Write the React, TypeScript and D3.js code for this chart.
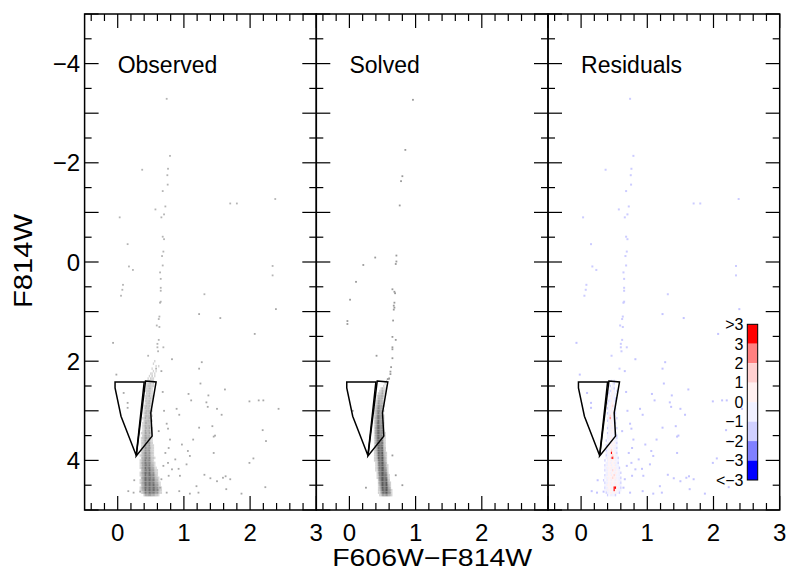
import React from "react";
import * as d3 from "d3";

// ---------- data ----------
const PANEL_LABELS = ["Observed", "Solved", "Residuals"];
const X_TICK_LABELS = [0, 1, 2, 3];
const Y_TICK_LABELS = [-4, -2, 0, 2, 4];
const X_DOMAIN = [-0.5, 3];
const Y_DOMAIN = [-5, 5];

// Hess-diagram bins of the main-sequence band (colour 0.30 + 0.02*i, mag step 0.05)
const BIN_COLOR0 = 0.3;
const BIN_DCOLOR = 0.02;
const BIN_DMAG = 0.05;

const OBS_MAG0 = 2.0;
const OBS_ROWS = [
  "0000000000000100000000000",
  "0000000000001000000000000",
  "0000000000000010100000000",
  "0000000000010000000000000",
  "0000000000001010000000000",
  "0000000000110100000000000",
  "0000000001020100000000000",
  "0000000010211000000000000",
  "0000000012121000000000000",
  "0000000122312000000000000",
  "0000000132221000000000000",
  "0000000223310000000000000",
  "0000001232210000000000000",
  "0000000323210000000000000",
  "0000001233120000000000000",
  "0000001322310000000000000",
  "0000002333210000000000000",
  "0000001343210000000000000",
  "0000012433200000000000000",
  "0000013342100000000000000",
  "0000012443210000000000000",
  "0000023434100000000000000",
  "0000013443210000000000000",
  "0000124344200000000000000",
  "0000023453210000000000000",
  "0000124543100000000000000",
  "0000134454200000000000000",
  "0000124545210000000000000",
  "0000135454210000000000000",
  "0001235545310000000000000",
  "0000245554210000000000000",
  "0001345655310000000000000",
  "0001256564210000000000000",
  "0001345665320000000000000",
  "0001256566321000000000000",
  "0001346665421000000000000",
  "0002356676321000000000000",
  "0001467766431000000000000",
  "0012467776421000000000000",
  "0002567877532100000000000",
  "0012578787531000000000000",
  "0013678887642100000000000",
  "0012678988653100000000000",
  "0013679898764210000000000",
  "0002578989875321000000000",
  "0013689999876421000000000",
  "0012579899987531000000000",
  "0003689998987642100000000",
  "0012589999998753100000000",
  "0013689999998764210000000",
  "0002579999999875310000000",
  "0013689999999986421000000",
  "0012579899999987531000000",
  "0001368889998876421000000",
  "0000024565654432100000000",
];

const SOL_MAG0 = 2.35;
const SOL_ROWS = [
  "0000000000000001000000000",
  "0000000000000100000000000",
  "0000000000001000000000000",
  "0000000000010100000000000",
  "0000000001211000000000000",
  "0000000012321000000000000",
  "0000000123421000000000000",
  "0000001234320000000000000",
  "0000001344310000000000000",
  "0000012454210000000000000",
  "0000013554310000000000000",
  "0000024565310000000000000",
  "0000125665200000000000000",
  "0000136675310000000000000",
  "0000136765200000000000000",
  "0000137776310000000000000",
  "0000147776310000000000000",
  "0000147876310000000000000",
  "0000148876420000000000000",
  "0000148887420000000000000",
  "0000158887410000000000000",
  "0000158887520000000000000",
  "0000158887521000000000000",
  "0000158888521000000000000",
  "0000148888631000000000000",
  "0000148898631000000000000",
  "0000148898741000000000000",
  "0000137899741000000000000",
  "0000136899842000000000000",
  "0000136899852000000000000",
  "0000125899953100000000000",
  "0000125899963100000000000",
  "0000124899974100000000000",
  "0000123799974100000000000",
  "0000012699985200000000000",
  "0000012699986210000000000",
  "0000012599996310000000000",
  "0000011589997410000000000",
  "0000001489998520000000000",
  "0000001389999631000000000",
  "0000001379999741000000000",
  "0000000269999852000000000",
  "0000000258999963100000000",
  "0000000148999974100000000",
  "0000000137999985200000000",
  "0000000126899986310000000",
  "0000000115799987410000000",
  "0000000012455554210000000",
];

// residual classes: A <-3, B -3..-2, C -2..-1, D -1..0, E 0..1, F 1..2, G 2..3, H >3
const RES_MAG0 = 2.4;
const RES_ROWS = [
  "........C.C",
  ".........DC",
  ".......C.DD",
  "........DDC",
  ".......CDED.C",
  "......C.DEDD",
  "......DDEDD",
  ".......DEDDC",
  "......CDDEDC",
  ".....C.DEEDD",
  "......DDEFDD",
  ".....CDEEDDC",
  "......DEDEDD",
  ".....CDDEEDC",
  "......DFEDDD",
  ".....DDGEDD.C",
  ".....CDEDEDD",
  "......DEEDDC",
  ".....DDDEEDD",
  ".....CDEDDEDC",
  "......DDEEDD",
  ".....CDEDEDC",
  ".....DDDEDDDC",
  ".....DDEEDEDC",
  "....C.DDEEDDD",
  ".....DDEDEEDC",
  "....CDDEEDEDD",
  ".....DEDEEDDC",
  "....CDDEFEDDD",
  "....DDEDHEEDC",
  "....CDDEEFEDD",
  "....DDEDGHEDDC",
  "...C.DEEDEEDDD",
  "....DDEDEEDEDC",
  "...CDDEEDEEDDD",
  "...DDEDEEDEEDDC",
  "...CDDEEDFEDEDD",
  "....DDEDEEDEEDDC",
  "...CDDEEDEFEDDD",
  "...DDEDEEFEEDDDC",
  "..C.DDEEDEEDEDDD",
  "...CDDEDEEDEEDDC",
  "...DDEEDEDEEDEDD",
  "...CDDEEDEHHEDDC",
  "...DDEDEEDHEEDDD",
  "....CDDEEDEEDDC",
  ".....C.DDDDC",
];

// individual stars [colour, magnitude]
const OBS_FIELD = [
  [0.64, 0.82], [1.23, 1.05], [1.55, 1.13], [2.39, 0.95], [2.07, 1.45], [-0.07, 1.63],
  [0.82, 1.96], [1.27, 2.02], [1.23, 2.15], [-0.02, 2.27], [0.66, 2.2], [1.25, 2.45],
  [1.62, 2.57], [1.07, 2.66], [1.37, 2.69], [1.11, 2.79], [1.99, 2.81], [2.13, 2.79],
  [2.2, 2.79], [1.34, 2.83], [0.89, 2.96], [1.36, 2.92], [1.5, 2.96], [2.43, 2.96],
  [0.15, 2.84], [0.15, 2.94], [0.09, 2.64], [0.93, 3.08], [1.57, 3.08], [0.74, 3.26],
  [0.62, 3.41], [1.23, 3.34], [1.43, 3.31], [0.76, 3.36], [1.47, 3.5], [1.45, 3.52],
  [2.19, 3.39], [1.14, 3.58], [0.79, 3.58], [2.24, 3.61], [0.77, 3.75], [0.97, 3.68],
  [1.06, 3.81], [1.45, 3.85], [0.72, 3.85], [1.09, 3.91], [2.05, 3.96], [1.99, 4.05],
  [0.87, 3.98], [0.76, 4.05], [1.04, 4.08], [0.69, 4.11], [0.92, 4.17], [0.82, 4.18],
  [1.31, 4.29], [1.4, 4.36], [1.5, 4.42], [1.59, 4.35], [1.63, 4.32], [1.7, 4.38],
  [0.77, 4.31], [0.66, 4.38], [0.94, 4.31], [1.19, 4.52], [1.22, 4.65], [0.93, 4.62],
  [1.09, 4.67], [1.64, 4.58], [1.87, 4.67], [2.23, 4.54], [0.16, 4.62], [0.24, 4.65],
  [0.34, 4.63], [0.74, 4.65], [0.64, 4.55], [0.7, 3.0], [0.68, 2.62], [0.25, 4.4],
];
const OBS_UPPER = [
  [0.74, -3.29], [0.79, -2.14], [0.37, -1.86], [0.76, -1.88], [0.75, -1.75], [0.755, -1.56],
  [0.68, -1.43], [2.38, -1.27], [0.72, -1.12], [0.57, -1.06], [0.7, -0.96], [0.66, -0.9],
  [0.03, -0.9], [1.7, -1.18], [1.8, -1.18], [0.68, -0.51], [0.7, -0.46], [0.15, -0.36],
  [0.69, -0.21], [0.67, -0.12], [0.68, 0.07], [0.17, 0.09], [0.23, 0.16], [2.34, 0.08],
  [2.34, 0.27], [0.64, 0.21], [0.65, 0.34], [0.65, 0.52], [0.65, 0.58], [0.08, 0.46],
  [0.07, 0.56], [0.05, 0.68], [1.31, 0.65], [0.65, 0.8], [0.63, 1.1], [0.62, 1.15],
  [0.59, 1.28], [0.63, 1.31], [0.62, 1.57], [0.6, 1.65], [0.6, 1.72], [0.69, 1.72],
  [0.61, 1.8], [0.46, 1.89], [0.58, 2.15],
];
const SOL_POINTS = [
  [0.96, -3.27], [0.845, -2.26], [0.8, -1.73], [0.78, -1.63], [0.76, -1.14], [0.71, -0.13],
  [0.71, -0.01], [0.7, 0.04], [0.39, -0.09], [0.21, 0.06], [0.1, 0.4], [0.01, 0.76],
  [-0.03, 1.19], [-0.03, 1.25], [0.65, 0.55], [0.68, 0.6], [0.69, 0.63], [0.68, 0.82],
  [0.67, 0.88], [0.68, 0.92], [0.67, 0.96], [0.66, 1.18], [0.65, 1.51], [0.7, 1.57],
  [0.65, 1.72], [0.65, 1.76], [0.65, 1.94], [0.41, 1.89], [0.63, 2.12], [0.62, 2.21],
  [0.62, 2.26], [0.6, 2.35], [0.58, 2.36], [0.25, 4.55], [0.7, 4.3], [0.8, 4.5],
  [0.65, 3.9], [0.05, 3.0],
];

// selection polygons [colour, magnitude]
const POLY_TRIANGLE = [[-0.04, 2.42], [0.4, 2.42], [0.28, 3.9], [0.05, 3.11], [-0.04, 2.54]];
const POLY_STRIP = [[0.42, 2.4], [0.58, 2.42], [0.5, 3.04], [0.52, 3.51], [0.28, 3.91]];

// colour bar
const CBAR_COLORS = ["#ff0000", "#ff8080", "#ffd0d0", "#fff0f0", "#f0f0ff", "#d0d0ff", "#8080ff", "#0000ff"];
const CBAR_LABELS = [">3", "3", "2", "1", "0", "\u22121", "\u22122", "\u22123", "<\u22123"];
const RES_CLASSES = ["H", "G", "F", "E", "D", "C", "B", "A"];

// ---------- helpers ----------
type Cell = { c: number; m: number; v: string };
function cellsFrom(rows: string[], mag0: number): Cell[] {
  const out: Cell[] = [];
  rows.forEach((row, r) => {
    for (let i = 0; i < row.length; i++) {
      const ch = row[i];
      if (ch === "0" || ch === ".") continue;
      out.push({ c: BIN_COLOR0 + i * BIN_DCOLOR, m: mag0 + r * BIN_DMAG, v: ch });
    }
  });
  return out;
}
const fmt = (v: number) => String(v).replace("-", "\u2212");

const FONT = "'Liberation Sans', Arial, Helvetica, sans-serif";

export default function App() {
  const left = 84.6;
  const top = 14;
  const bottom = 510;
  const pw = 231.7;

  const y = d3.scaleLinear().domain(Y_DOMAIN).range([top, bottom]);
  const xs = [0, 1, 2].map((i) =>
    d3.scaleLinear().domain(X_DOMAIN).range([left + i * pw, left + (i + 1) * pw])
  );

  const obsCells = cellsFrom(OBS_ROWS, OBS_MAG0);
  const solCells = cellsFrom(SOL_ROWS, SOL_MAG0);
  const resCells = cellsFrom(RES_ROWS, RES_MAG0);

  const obsGray = d3.scaleLinear<string>().domain([1, 9]).range(["#d4d4d4", "#6e6e6e"]);
  const solGray = d3.scaleLinear<string>().domain([1, 9]).range(["#d0d0d0", "#5a5a5a"]);
  const resColor = d3.scaleOrdinal<string, string>().domain(RES_CLASSES).range(CBAR_COLORS);

  const yTicks = y.ticks(20);
  const xTicksAll = xs[0].ticks(20);

  const cbY = d3.scaleBand<string>().domain(CBAR_COLORS).range([324.3, 480]).padding(0);
  const cbX0 = 747.3;
  const cbW = 10.4;

  const renderCells = (cells: Cell[], x: d3.ScaleLinear<number, number>, color: (v: string) => string, key: string) => {
    const cw = x(BIN_DCOLOR) - x(0);
    const ch = y(BIN_DMAG) - y(0);
    return cells.map((d, i) => (
      <rect
        key={key + i}
        x={x(d.c) - cw / 2}
        y={y(d.m) - ch / 2}
        width={cw}
        height={ch}
        fill={color(d.v)}
      />
    ));
  };

  const renderPts = (pts: number[][], x: d3.ScaleLinear<number, number>, fill: string, key: string, s = 1.8) =>
    pts.map((p, i) => (
      <rect key={key + i} x={x(p[0]) - s / 2} y={y(p[1]) - s / 2} width={s} height={s} fill={fill} />
    ));

  const polyPath = (x: d3.ScaleLinear<number, number>, pts: number[][]) =>
    d3
      .line<number[]>()
      .x((d) => x(d[0]))
      .y((d) => y(d[1]))
      .curve(d3.curveLinearClosed)(pts) || "";

  return (
    <div>
      <style>{`body{margin:0;}`}</style>
      <svg width={790} height={572} style={{ display: "block", background: "#fff" }} fontFamily={FONT}>
        {xs.map((x, pi) => (
          <g key={"panel" + pi}>
            {pi === 0 && renderCells(obsCells, x, (v) => obsGray(+v), "oc")}
            {pi === 0 && renderPts(OBS_FIELD, x, "#a8a8a8", "of")}
            {pi === 0 && renderPts(OBS_UPPER, x, "#b4b4b4", "ou")}
            {pi === 1 && renderCells(solCells, x, (v) => solGray(+v), "sc")}
            {pi === 1 && renderPts(SOL_POINTS, x, "#9a9a9a", "sp")}
            {pi === 2 && renderPts(OBS_FIELD, x, "#c4c4ff", "rf", 2)}
            {pi === 2 && renderPts(OBS_UPPER, x, "#ccccff", "ru", 2)}
            {pi === 2 && renderCells(resCells, x, (v) => resColor(v), "rc")}

            <path d={polyPath(x, POLY_TRIANGLE)} fill="none" stroke="#000" strokeWidth={1.5} strokeLinejoin="miter" />
            <path d={polyPath(x, POLY_STRIP)} fill="none" stroke="#000" strokeWidth={1.5} strokeLinejoin="miter" />

            {/* ticks */}
            {xTicksAll.map((t) => {
              const major = Math.abs(t - Math.round(t)) < 1e-6;
              const len = major ? 14 : 7;
              const px = x(t);
              return (
                <g key={"xt" + t}>
                  <line x1={px} x2={px} y1={bottom} y2={bottom - len} stroke="#000" strokeWidth={1.2} />
                  <line x1={px} x2={px} y1={top} y2={top + len} stroke="#000" strokeWidth={1.2} />
                </g>
              );
            })}
            {yTicks.map((t) => {
              const major = Math.abs(t - Math.round(t)) < 1e-6;
              const len = major ? 14 : 7;
              const py = y(t);
              const [x0, x1] = x.range();
              return (
                <g key={"yt" + t}>
                  <line x1={x0} x2={x0 + len} y1={py} y2={py} stroke="#000" strokeWidth={1.2} />
                  <line x1={x1} x2={x1 - len} y1={py} y2={py} stroke="#000" strokeWidth={1.2} />
                </g>
              );
            })}
            <rect
              x={x.range()[0]}
              y={top}
              width={x.range()[1] - x.range()[0]}
              height={bottom - top}
              fill="none"
              stroke="#000"
              strokeWidth={1.5}
            />
            {X_TICK_LABELS.map((t) => (
              <text key={"xl" + t} x={x(t)} y={bottom + 31} fontSize={24} textAnchor="middle" fill="#000">
                {fmt(t)}
              </text>
            ))}
            <text x={x(0)} y={y(-3.81)} fontSize={23} fill="#000">
              {PANEL_LABELS[pi]}
            </text>
          </g>
        ))}

        {Y_TICK_LABELS.map((t) => (
          <text key={"yl" + t} x={left - 4.6} y={y(t)} dy="0.36em" fontSize={24} textAnchor="end" fill="#000">
            {fmt(t)}
          </text>
        ))}

        {/* axis titles */}
        <text
          x={xs[1](1.25)}
          y={566}
          fontSize={24}
          textAnchor="middle"
          textLength={200}
          lengthAdjust="spacingAndGlyphs"
          fill="#000"
        >
          F606W{"\u2212"}F814W
        </text>
        <text
          transform={`translate(31.7, ${(top + bottom) / 2 - 1}) rotate(-90)`}
          fontSize={25}
          textAnchor="middle"
          textLength={94}
          lengthAdjust="spacingAndGlyphs"
          fill="#000"
        >
          F814W
        </text>

        {/* colour bar */}
        {CBAR_COLORS.map((c) => (
          <rect key={"cb" + c} x={cbX0} y={cbY(c)} width={cbW} height={cbY.bandwidth()} fill={c} />
        ))}
        <rect x={cbX0} y={324.3} width={cbW} height={480 - 324.3} fill="none" stroke="#000" strokeWidth={1} />
        {CBAR_LABELS.map((l, i) => (
          <text
            key={"cbl" + i}
            x={743.5}
            y={324.3 + i * cbY.bandwidth()}
            dy="0.36em"
            fontSize={16}
            textAnchor="end"
            fill="#000"
          >
            {l}
          </text>
        ))}
      </svg>
    </div>
  );
}
